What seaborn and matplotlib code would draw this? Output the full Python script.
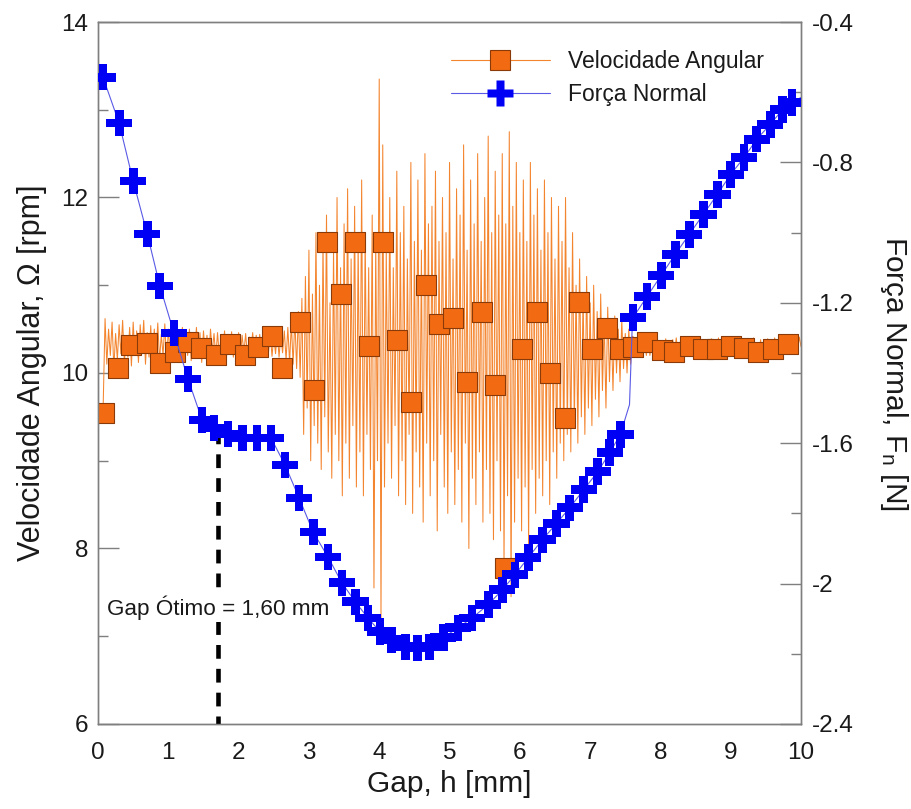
import matplotlib
matplotlib.use("Agg")
import matplotlib.pyplot as plt
from matplotlib.lines import Line2D
from matplotlib.ticker import MultipleLocator, FormatStrFormatter
import seaborn as sns
import pandas as pd

# ---------------- data ----------------
# Velocidade angular: markers
omega_mark_x = [0.09, 0.28, 0.47, 0.70, 0.88, 1.10, 1.28, 1.47, 1.68, 1.88,
                2.09, 2.28, 2.48, 2.62, 2.87, 3.07, 3.26, 3.46, 3.66, 3.86,
                4.06, 4.25, 4.45, 4.66, 4.85, 5.05, 5.25, 5.46, 5.65, 5.79,
                6.03, 6.24, 6.43, 6.64, 6.84, 7.03, 7.24, 7.43, 7.61, 7.81,
                8.02, 8.20, 8.42, 8.61, 8.80, 9.01, 9.19, 9.39, 9.60, 9.81]
omega_mark_y = [9.54, 10.06, 10.32, 10.34, 10.11, 10.24, 10.35, 10.28, 10.21, 10.33,
                10.21, 10.30, 10.42, 10.06, 10.58, 9.81, 11.49, 10.90, 11.49, 10.31,
                11.49, 10.38, 9.67, 11.00, 10.56, 10.63, 9.90, 10.70, 9.86, 7.78,
                10.27, 10.70, 10.00, 9.49, 10.81, 10.27, 10.51, 10.27, 10.30, 10.35,
                10.26, 10.24, 10.31, 10.27, 10.27, 10.31, 10.28, 10.24, 10.27, 10.33]

# Velocidade angular: raw (noisy) signal
omega_line_x = [
    0.070,
    0.100, 0.125, 0.150, 0.175, 0.200, 0.225, 0.250, 0.275,
    0.300, 0.325, 0.350, 0.375, 0.400, 0.425, 0.450, 0.475,
    0.500, 0.525, 0.550, 0.575, 0.600, 0.625, 0.650, 0.675,
    0.700, 0.725, 0.750, 0.775, 0.800, 0.825, 0.850, 0.875,
    0.900, 0.925, 0.950, 0.975, 1.000, 1.025, 1.050, 1.075,
    1.100, 1.125, 1.150, 1.175, 1.200, 1.225, 1.250, 1.275,
    1.300, 1.325, 1.350, 1.375, 1.400, 1.425, 1.450, 1.475,
    1.500, 1.525, 1.550, 1.575, 1.600, 1.625, 1.650, 1.675,
    1.700, 1.725, 1.750, 1.775, 1.800, 1.825, 1.850, 1.875,
    1.900, 1.925, 1.950, 1.975, 2.000, 2.025, 2.050, 2.075,
    2.100, 2.125, 2.150, 2.175, 2.200, 2.225, 2.250, 2.275,
    2.300, 2.325, 2.350, 2.375, 2.400, 2.425, 2.450, 2.475,
    2.500, 2.525, 2.550, 2.575, 2.600, 2.625, 2.650, 2.675,
    2.700, 2.725, 2.750, 2.775, 2.800, 2.825, 2.850, 2.875,
    2.900,
    2.925, 2.950, 2.975, 3.000, 3.025, 3.050, 3.075, 3.100,
    3.125, 3.150, 3.175, 3.200, 3.225, 3.250, 3.275, 3.300,
    3.325, 3.350, 3.375, 3.400, 3.425, 3.450, 3.475, 3.500,
    3.525, 3.550, 3.575, 3.600, 3.625, 3.650, 3.675, 3.700,
    3.725, 3.750, 3.775, 3.800, 3.825, 3.850, 3.875, 3.900,
    3.925, 3.950, 3.975, 4.000, 4.025, 4.050, 4.075, 4.100,
    4.125, 4.150, 4.175, 4.200, 4.225, 4.250, 4.275, 4.300,
    4.325, 4.350, 4.375, 4.400, 4.425, 4.450, 4.475, 4.500,
    4.525, 4.550, 4.575, 4.600, 4.625, 4.650, 4.675, 4.700,
    4.725, 4.750, 4.775, 4.800, 4.825, 4.850, 4.875, 4.900,
    4.925, 4.950, 4.975, 5.000, 5.025, 5.050, 5.075, 5.100,
    5.125, 5.150, 5.175, 5.200, 5.225, 5.250, 5.275, 5.300,
    5.325, 5.350, 5.375, 5.400, 5.425, 5.450, 5.475, 5.500,
    5.525, 5.550, 5.575, 5.600, 5.625, 5.650, 5.675, 5.700,
    5.725, 5.750, 5.775, 5.800, 5.825, 5.850, 5.875, 5.900,
    5.925, 5.950, 5.975, 6.000, 6.025, 6.050, 6.075, 6.100,
    6.125, 6.150, 6.175, 6.200, 6.225, 6.250, 6.275, 6.300,
    6.325, 6.350, 6.375, 6.400, 6.425, 6.450, 6.475, 6.500,
    6.525, 6.550, 6.575, 6.600, 6.625, 6.650, 6.675, 6.700,
    6.725, 6.750, 6.775, 6.800, 6.825, 6.850, 6.875, 6.900,
    6.925, 6.950, 6.975, 7.000, 7.025, 7.050, 7.075, 7.100,
    7.125, 7.150, 7.175, 7.200, 7.225, 7.250, 7.275, 7.300,
    7.325, 7.350, 7.375, 7.400, 7.425, 7.450, 7.475, 7.500,
    7.525, 7.550, 7.575, 7.600,
    7.625, 7.650, 7.675, 7.700, 7.725, 7.750, 7.775, 7.800,
    7.825, 7.850, 7.875, 7.900, 7.925, 7.950, 7.975, 8.000,
    8.025, 8.050, 8.075, 8.100, 8.125, 8.150, 8.175, 8.200,
    8.225, 8.250, 8.275, 8.300, 8.325, 8.350, 8.375, 8.400,
    8.425, 8.450, 8.475, 8.500, 8.525, 8.550, 8.575, 8.600,
    8.625, 8.650, 8.675, 8.700, 8.725, 8.750, 8.775, 8.800,
    8.825, 8.850, 8.875, 8.900, 8.925, 8.950, 8.975, 9.000,
    9.025, 9.050, 9.075, 9.100, 9.125, 9.150, 9.175, 9.200,
    9.225, 9.250, 9.275, 9.300, 9.325, 9.350, 9.375, 9.400,
    9.425, 9.450, 9.475, 9.500, 9.525, 9.550, 9.575, 9.600,
    9.625, 9.650, 9.675, 9.700, 9.725, 9.750, 9.775, 9.800,
    9.825, 9.850, 9.875, 9.900, 9.925, 9.950, 9.975, 10.000,
]
omega_line_y = [
    9.50,
    10.62, 10.10, 10.50, 10.20, 10.58, 10.05, 10.45, 10.15,
    10.55, 10.22, 10.60, 10.12, 10.42, 10.18, 10.52, 10.08,
    10.58, 10.20, 10.48, 10.12, 10.55, 10.25, 10.60, 10.10,
    10.46, 10.18, 10.54, 10.08, 10.50, 10.22, 10.57, 10.14,
    10.44, 10.20, 10.56, 10.10, 10.50, 10.24, 10.48, 10.15,
    10.55, 10.12, 10.45, 10.22, 10.52, 10.16, 10.47, 10.20,
    10.50, 10.14, 10.44, 10.24, 10.52, 10.18, 10.46, 10.12,
    10.48, 10.22, 10.43, 10.17, 10.50, 10.24, 10.45, 10.18,
    10.46, 10.20, 10.42, 10.25, 10.48, 10.16, 10.44, 10.22,
    10.47, 10.18, 10.42, 10.24, 10.46, 10.20, 10.43, 10.23,
    10.45, 10.19, 10.41, 10.25, 10.46, 10.21, 10.43, 10.18,
    10.44, 10.22, 10.47, 10.20, 10.42, 10.24, 10.45, 10.19,
    10.42, 10.22, 10.46, 10.18, 10.44, 10.23, 10.48, 10.15,
    10.52, 10.12, 10.56, 10.10, 10.62, 10.05, 10.70, 9.95,
    10.85,
    9.30, 11.10, 9.60, 11.40, 9.00, 10.90, 9.40, 11.60,
    9.20, 11.00, 8.90, 11.50, 9.50, 11.80, 9.10, 10.80,
    8.80, 11.40, 9.30, 12.00, 9.00, 11.20, 8.60, 11.70,
    9.20, 12.10, 8.80, 11.30, 9.40, 11.90, 8.70, 11.50,
    9.10, 12.20, 8.60, 11.60, 9.30, 11.20, 8.90, 11.80,
    7.55, 11.50, 9.00, 13.35, 7.20, 12.60, 8.70, 11.40,
    9.20, 12.00, 8.80, 11.20, 9.40, 12.30, 8.60, 11.60,
    9.00, 11.90, 8.50, 11.30, 9.30, 12.40, 8.40, 11.50,
    9.10, 12.20, 8.70, 11.40, 8.30, 12.50, 9.20, 11.70,
    8.60, 11.90, 9.00, 12.30, 8.20, 11.50, 9.30, 12.00,
    8.70, 11.60, 8.40, 12.40, 9.10, 11.30, 8.50, 12.10,
    8.90, 11.80, 8.30, 12.60, 9.20, 11.40, 8.00, 12.20,
    8.80, 11.70, 8.50, 12.50, 9.10, 11.50, 8.30, 12.00,
    8.90, 12.70, 8.40, 11.60, 8.10, 12.30, 9.00, 11.80,
    8.20, 12.50, 7.80, 11.70, 8.60, 12.75, 7.45, 11.90,
    8.30, 12.40, 8.80, 11.60, 8.20, 12.20, 8.70, 11.50,
    8.00, 12.40, 8.90, 11.80, 8.40, 12.10, 8.80, 11.40,
    8.60, 12.20, 9.00, 11.60, 8.50, 12.00, 9.10, 11.30,
    8.80, 11.90, 9.20, 11.50, 9.00, 12.00, 9.30, 11.20,
    9.10, 11.60, 9.40, 11.00, 9.20, 11.30, 9.50, 10.90,
    9.30, 11.10, 9.60, 10.80, 9.40, 11.00, 9.70, 10.70,
    9.50, 10.90, 9.80, 10.60, 9.60, 10.75, 9.90, 10.55,
    9.80, 10.65, 10.00, 10.50, 9.90, 10.60, 10.05, 10.45,
    10.00, 10.50, 10.10, 10.42,
    10.40, 10.22, 10.36, 10.18, 10.38, 10.24, 10.34, 10.20,
    10.38, 10.20, 10.35, 10.22, 10.40, 10.18, 10.36, 10.24,
    10.34, 10.19, 10.39, 10.22, 10.36, 10.17, 10.38, 10.23,
    10.40, 10.21, 10.35, 10.18, 10.37, 10.24, 10.34, 10.20,
    10.38, 10.19, 10.36, 10.23, 10.40, 10.18, 10.35, 10.22,
    10.37, 10.20, 10.34, 10.17, 10.39, 10.22, 10.36, 10.19,
    10.40, 10.23, 10.35, 10.18, 10.38, 10.21, 10.36, 10.24,
    10.34, 10.19, 10.39, 10.21, 10.36, 10.17, 10.38, 10.22,
    10.37, 10.20, 10.35, 10.18, 10.40, 10.23, 10.34, 10.19,
    10.38, 10.21, 10.36, 10.24, 10.39, 10.20, 10.35, 10.22,
    10.40, 10.23, 10.38, 10.21, 10.41, 10.25, 10.39, 10.24,
    10.42, 10.26, 10.40, 10.24, 10.43, 10.27, 10.41, 10.30,
]

# Forca normal: markers
fn_mark_x = [0.07, 0.30, 0.50, 0.70, 0.88, 1.08, 1.28, 1.48, 1.65, 1.85,
             2.06, 2.26, 2.46, 2.66, 2.86, 3.06, 3.27, 3.47, 3.66, 3.84,
             4.01, 4.18, 4.37, 4.55, 4.72, 4.91, 5.12, 5.32, 5.55, 5.75,
             5.93, 6.12, 6.32, 6.52, 6.71, 6.91, 7.11, 7.28, 7.43, 7.61,
             7.81, 8.01, 8.21, 8.41, 8.61, 8.81, 9.00, 9.19, 9.37, 9.56,
             9.74, 9.87]
fn_mark_y = [-0.557, -0.688, -0.853, -1.004, -1.152, -1.286, -1.417, -1.534, -1.557, -1.574,
             -1.585, -1.585, -1.585, -1.662, -1.756, -1.853, -1.924, -1.998, -2.052, -2.098,
             -2.137, -2.160, -2.180, -2.183, -2.180, -2.154, -2.126, -2.098, -2.060, -2.018,
             -1.975, -1.926, -1.875, -1.829, -1.784, -1.732, -1.681, -1.627, -1.575, -1.242,
             -1.182, -1.122, -1.062, -1.005, -0.948, -0.891, -0.834, -0.786, -0.734, -0.692,
             -0.649, -0.629]

# Forca normal: raw signal (through the markers, with the jump near 7.6 mm)
fn_line_x = fn_mark_x[:39] + [7.56, 7.60] + fn_mark_x[39:] + [10.0]
fn_line_y = fn_mark_y[:39] + [-1.49, -1.26] + fn_mark_y[39:] + [-0.615]

gap_otimo = 1.70
gap_text = "Gap Ótimo = 1,60 mm"
fn_tick_values = [-2.4, -2.0, -1.6, -1.2, -0.8, -0.4]
fn_tick_labels = ["-2.4", "-2", "-1.6", "-1.2", "-0.8", "-0.4"]

assert len(omega_line_x) == len(omega_line_y)

df_om_line = pd.DataFrame({"h": omega_line_x, "v": omega_line_y})
df_om_mark = pd.DataFrame({"h": omega_mark_x, "v": omega_mark_y})
df_fn_line = pd.DataFrame({"h": fn_line_x, "f": fn_line_y})
df_fn_mark = pd.DataFrame({"h": fn_mark_x, "f": fn_mark_y})

# ---------------- style ----------------
sns.set_style("white")
plt.rcParams["font.family"] = ["Liberation Sans", "DejaVu Sans"]
plt.rcParams["mathtext.fontset"] = "custom"
plt.rcParams["mathtext.rm"] = "Liberation Sans"
plt.rcParams["mathtext.it"] = "Liberation Sans"
plt.rcParams["text.color"] = "#1a1a1a"
plt.rcParams["axes.labelcolor"] = "#1a1a1a"
plt.rcParams["xtick.labelcolor"] = "#1a1a1a"
plt.rcParams["ytick.labelcolor"] = "#1a1a1a"

ORANGE = "#F26B12"
ORANGE_LINE = "#F4852F"
ORANGE_EDGE = "#8A3A08"
BLUE = "#0000F5"
BLUE_LINE = "#5A5AE6"
GRAY = "#7F7F7F"

fig = plt.figure(figsize=(9.11, 8.09), dpi=100)
ax = fig.add_axes([0.1076, 0.1051, 0.7717, 0.8677])
ax2 = ax.twinx()

sns.lineplot(data=df_om_line, x="h", y="v", ax=ax, sort=False, estimator=None,
             color=ORANGE_LINE, linewidth=0.75, zorder=2)
sns.scatterplot(data=df_om_mark, x="h", y="v", ax=ax, marker="s", s=14.5 ** 2,
                color=ORANGE, edgecolor=ORANGE_EDGE, linewidth=0.8, zorder=3)

sns.lineplot(data=df_fn_line, x="h", y="f", ax=ax2, sort=False, estimator=None,
             color=BLUE_LINE, linewidth=0.8, zorder=2)
sns.scatterplot(data=df_fn_mark, x="h", y="f", ax=ax2, marker="P", s=19 ** 2,
                color=BLUE, edgecolor="none", linewidth=0, zorder=3)

# optimum gap line + text
ax.plot([gap_otimo, gap_otimo], [9.35, 6.0], color="black", linewidth=3.3,
        dashes=(3.0, 2.2), zorder=4, solid_capstyle="butt")
ax.text(0.13, 7.32, gap_text, fontsize=16.2, ha="left", va="center", zorder=5,
        bbox=dict(facecolor="white", edgecolor="none", pad=1.5))

# axes limits / ticks
ax.set_xlim(0, 10)
ax.set_ylim(6, 14)
ax2.set_ylim(-2.4, -0.4)

ax.xaxis.set_major_locator(MultipleLocator(2))
ax.xaxis.set_minor_locator(MultipleLocator(1))
ax.xaxis.set_minor_formatter(FormatStrFormatter("%d"))
ax.xaxis.set_major_formatter(FormatStrFormatter("%d"))
ax.yaxis.set_major_locator(MultipleLocator(2))
ax.yaxis.set_minor_locator(MultipleLocator(1))
ax2.set_yticks(fn_tick_values)
ax2.set_yticklabels(fn_tick_labels)
ax2.yaxis.set_minor_locator(MultipleLocator(0.2))

for a in (ax, ax2):
    for sp in a.spines.values():
        sp.set_color(GRAY)
        sp.set_linewidth(1.0)

ax.tick_params(axis="both", which="major", direction="in", length=15, width=1,
               color=GRAY, labelsize=17.5, pad=7, right=False, top=False)
ax.tick_params(axis="both", which="minor", direction="in", length=7, width=1,
               color=GRAY, labelsize=17.5, pad=7, right=False, top=False)
ax.tick_params(axis="x", which="both", pad=13)
ax2.tick_params(axis="y", which="major", direction="in", length=15, width=1,
                color=GRAY, labelsize=17.5, pad=8)
ax2.tick_params(axis="y", which="minor", direction="in", length=7, width=1,
                color=GRAY)

ax.set_xlabel("Gap, h [mm]", fontsize=21.5, labelpad=4)
ax.set_ylabel("Velocidade Angular, Ω [rpm]", fontsize=22, labelpad=10)
ax2.set_ylabel("Força Normal, F$_\\mathregular{n}$ [N]", fontsize=21.5,
               rotation=270, labelpad=40)

# legend
handles = [
    Line2D([], [], color=ORANGE_LINE, linewidth=0.8, marker="s", markersize=14.5,
           markerfacecolor=ORANGE, markeredgecolor=ORANGE_EDGE, markeredgewidth=0.8),
    Line2D([], [], color=BLUE_LINE, linewidth=0.8, marker="P", markersize=19,
           markerfacecolor=BLUE, markeredgecolor="none"),
]
ax2.legend(handles, ["Velocidade Angular", "Força Normal"], loc="upper left",
           bbox_to_anchor=(0.473, 0.99), frameon=False, fontsize=16.5,
           handlelength=4.3, numpoints=1, handletextpad=0.8, labelspacing=0.45)

fig.savefig("out.png", dpi=100)
